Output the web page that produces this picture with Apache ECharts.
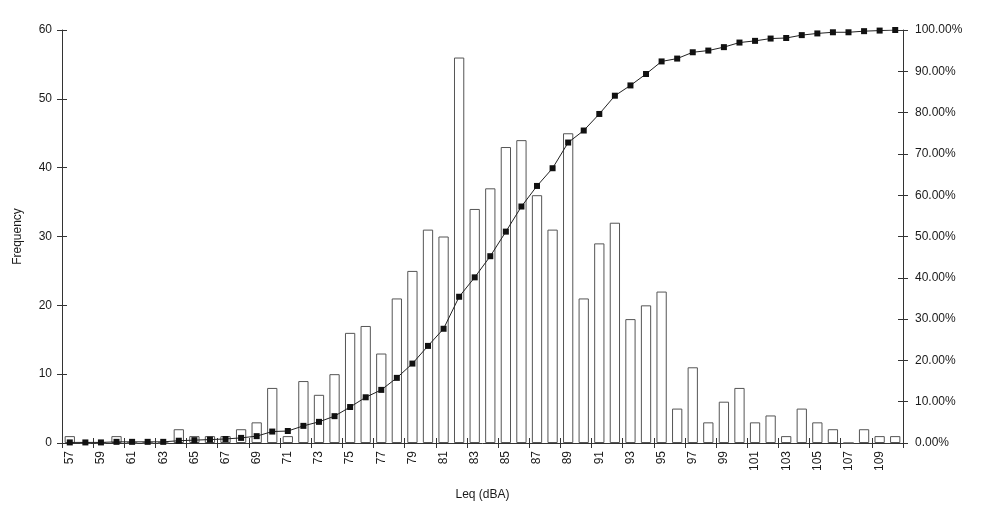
<!DOCTYPE html>
<html>
<head>
<meta charset="utf-8">
<script src="https://cdn.jsdelivr.net/npm/echarts@6/dist/echarts.min.js"></script>
<style>
html,body{margin:0;padding:0;background:#fff}
#chart{width:1002px;height:523px}
</style>
</head>
<body>
<div id="chart"></div>
<script>
// categories: Leq (dBA) bins
var levels = ['57','58','59','60','61','62','63','64','65','66','67','68','69','70','71','72','73','74','75','76','77','78','79','80','81','82','83','84','85','86','87','88','89','90','91','92','93','94','95','96','97','98','99','100','101','102','103','104','105','106','107','108','109','110'];
// frequency per bin
var frequency = [1,0,0,1,0,0,0,2,1,1,1,2,3,8,1,9,7,10,16,17,13,21,25,31,30,56,34,37,43,44,36,31,45,21,29,32,18,20,22,5,11,3,6,8,3,4,1,5,3,2,0,2,1,1];
// cumulative percentage (right axis)
var cumulative = [0.14,0.14,0.14,0.28,0.28,0.28,0.28,0.55,0.69,0.83,0.97,1.24,1.66,2.77,2.90,4.15,5.12,6.50,8.71,11.07,12.86,15.77,19.23,23.51,27.66,35.41,40.11,45.23,51.18,57.26,62.24,66.53,72.75,75.66,79.67,84.09,86.58,89.35,92.39,93.08,94.61,95.02,95.85,96.96,97.37,97.93,98.06,98.76,99.17,99.45,99.45,99.72,99.86,100.00];

var axisColor = '#333';
var txt = {color: '#1a1a1a', fontFamily: 'Liberation Sans, Arial, sans-serif', fontSize: 12};

var chart = echarts.init(document.getElementById('chart'));
chart.setOption({
	backgroundColor: '#fff',
	animation: false,
	grid: {left: 62, right: 99, top: 30, bottom: 80},
	xAxis: [{
		type: 'category',
		data: levels,
		name: 'Leq (dBA)',
		nameLocation: 'middle',
		nameGap: 46,
		nameTextStyle: txt,
		axisLine: {lineStyle: {color: axisColor, width: 1}},
		axisTick: {show: true, length: 5, lineStyle: {color: axisColor}},
		axisLabel: Object.assign({rotate: 90, interval: 1, margin: 8}, txt),
		splitLine: {show: false}
	}, {
		// inside ticks so they cross the axis
		type: 'category',
		data: levels,
		position: 'bottom',
		axisLine: {show: false},
		axisTick: {show: true, inside: true, length: 5, lineStyle: {color: axisColor}},
		axisLabel: {show: false},
		splitLine: {show: false}
	}],
	yAxis: [{
		type: 'value',
		min: 0, max: 60, interval: 10,
		position: 'left',
		name: 'Frequency',
		nameLocation: 'middle',
		nameGap: 38,
		nameTextStyle: txt,
		axisLine: {show: true, lineStyle: {color: axisColor}},
		axisTick: {show: true, length: 5, lineStyle: {color: axisColor}},
		axisLabel: Object.assign({margin: 10}, txt),
		splitLine: {show: false}
	}, {
		type: 'value',
		min: 0, max: 100, interval: 10,
		position: 'right',
		axisLine: {show: true, lineStyle: {color: axisColor}},
		axisTick: {show: true, length: 5, lineStyle: {color: axisColor}},
		axisLabel: Object.assign({margin: 12, formatter: function (v) { return v.toFixed(2) + '%'; }}, txt),
		splitLine: {show: false}
	}, {
		type: 'value',
		min: 0, max: 60, interval: 10,
		position: 'left',
		axisLine: {show: false},
		axisTick: {show: true, inside: true, length: 5, lineStyle: {color: axisColor}},
		axisLabel: {show: false},
		splitLine: {show: false}
	}, {
		type: 'value',
		min: 0, max: 100, interval: 10,
		position: 'right',
		axisLine: {show: false},
		axisTick: {show: true, inside: true, length: 5, lineStyle: {color: axisColor}},
		axisLabel: {show: false},
		splitLine: {show: false}
	}],
	series: [{
		name: 'Frequency',
		type: 'bar',
		data: frequency,
		barWidth: '66%',
		itemStyle: {color: '#fff', borderColor: '#555', borderWidth: 1}
	}, {
		name: 'Cumulative %',
		type: 'line',
		yAxisIndex: 1,
		data: cumulative,
		symbol: 'rect',
		symbolSize: 6,
		lineStyle: {color: '#222', width: 1},
		itemStyle: {color: '#111'}
	}]
});
</script>
</body>
</html>
